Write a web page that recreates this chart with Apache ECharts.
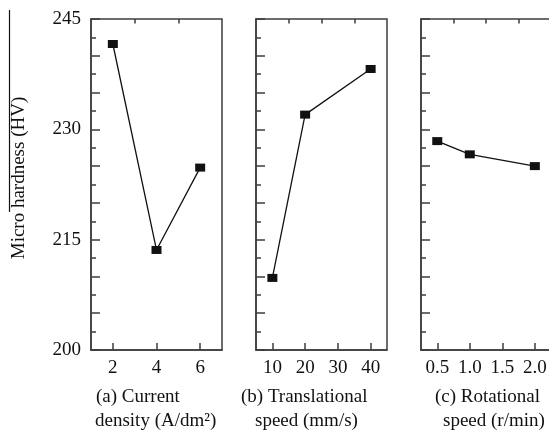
<!DOCTYPE html>
<html><head><meta charset="utf-8">
<script src="https://cdn.jsdelivr.net/npm/echarts@6/dist/echarts.min.js"></script>
<style>html,body{margin:0;padding:0;background:#fff;overflow:hidden}#c{width:549px;height:431px}</style>
</head><body><div id="c"></div>
<script>
// ---- data ----
const xA = [2, 4, 6];
const yA = [241.6, 213.6, 224.8];
const xB = [10, 20, 40];
const yB = [209.8, 232.0, 238.2];
const xC = [0.5, 1.0, 2.0];
const yC = [228.4, 226.6, 225.0];
const yTickLabels = [200, 215, 230, 245];
const xLabelsA = [2, 4, 6];
const xMinorA = [3, 5];
const xLabelsB = [10, 20, 30, 40];
const xMinorB = [15, 25, 35];
const xLabelsC = [0.5, 1.0, 1.5, 2.0];
const xMinorC = [0.75, 1.25, 1.75];
const yTitle = 'Micro hardness (HV)';
const captions = [['(a) Current', 'density (A/dm\u00B2)'], ['(b) Translational', 'speed (mm/s)'], ['(c) Rotational', 'speed (r/min)']];

const FONT = 'Liberation Serif';
const AX = '#3c3c3c';
const chart = echarts.init(document.getElementById('c'), null, {renderer: 'canvas'});

const grids = [
  {left: 91, top: 19, width: 131, height: 331},
  {left: 256, top: 19, width: 131, height: 331},
  {left: 421, top: 19, width: 136.6, height: 331}
].map(g => Object.assign(g, {show: true, borderColor: AX, borderWidth: 1.5, backgroundColor: 'transparent', containLabel: false, outerBoundsMode: 'none'}));

const xRanges = [[1, 7], [5, 45], [0.25, 2.35]];
const xMajor = [xLabelsA, xLabelsB, xLabelsC];
const xMinor = [xMinorA, xMinorB, xMinorC];
const xFmt = [v => String(v), v => String(v), v => Number(v).toFixed(1)];

const xAxes = [];
const yAxes = [];
for (let i = 0; i < 3; i++) {
  xAxes.push({
    type: 'value', gridIndex: i, min: xRanges[i][0], max: xRanges[i][1],
    axisLine: {show: true, lineStyle: {color: AX, width: 1.5}},
    axisTick: {show: true, inside: true, length: 7, customValues: xMajor[i], lineStyle: {color: AX, width: 1.5}},
    axisLabel: {show: true, customValues: xMajor[i], formatter: xFmt[i], margin: 9, fontFamily: FONT, fontSize: 19, color: '#111', hideOverlap: false},
    splitLine: {show: false}
  });
  xAxes.push({
    type: 'value', gridIndex: i, min: xRanges[i][0], max: xRanges[i][1],
    axisLine: {show: false},
    axisTick: {show: true, inside: true, length: 4.5, customValues: xMinor[i], lineStyle: {color: AX, width: 1.5}},
    axisLabel: {show: false},
    splitLine: {show: false}
  });
  yAxes.push({
    type: 'value', gridIndex: i, min: 200, max: 245, interval: 5,
    axisLine: {show: true, lineStyle: {color: AX, width: 1.5}},
    axisTick: {show: true, inside: true, length: 9, lineStyle: {color: AX, width: 1.5}},
    minorTick: {show: true, splitNumber: 2, length: 5, lineStyle: {color: AX, width: 1.5}},
    axisLabel: {show: i === 0, customValues: yTickLabels, margin: 10, fontFamily: FONT, fontSize: 19, color: '#111'},
    splitLine: {show: false}, minorSplitLine: {show: false}
  });
}

const xs = [xA, xB, xC], ys = [yA, yB, yC];
const series = [0, 1, 2].map(i => ({
  type: 'line', xAxisIndex: i * 2, yAxisIndex: i,
  data: xs[i].map((x, k) => [x, ys[i][k]]),
  symbol: 'rect', symbolSize: [10, 8],
  itemStyle: {color: '#111'},
  lineStyle: {color: '#111', width: 1.3},
  animation: false
}));

const capX = [[96, 95], [241, 255], [435, 443]];
const graphic = [
  {type: 'text', x: 19, y: 178, rotation: Math.PI / 2,
   style: {text: yTitle, font: '19px "Liberation Serif"', fill: '#111', align: 'center', verticalAlign: 'middle'}},
  {type: 'line', shape: {x1: 9.5, y1: 10, x2: 9.5, y2: 212}, style: {stroke: '#111', lineWidth: 1.2}}
];
captions.forEach((c, i) => {
  graphic.push({type: 'text', x: capX[i][0], y: 397, style: {text: c[0], font: '19px "Liberation Serif"', fill: '#111', align: 'left', verticalAlign: 'middle'}});
  graphic.push({type: 'text', x: capX[i][1], y: 421, style: {text: c[1], font: '19px "Liberation Serif"', fill: '#111', align: 'left', verticalAlign: 'middle'}});
});

chart.setOption({
  animation: false,
  backgroundColor: '#fff',
  grid: grids, xAxis: xAxes, yAxis: yAxes, series: series, graphic: graphic
});
</script></body></html>
